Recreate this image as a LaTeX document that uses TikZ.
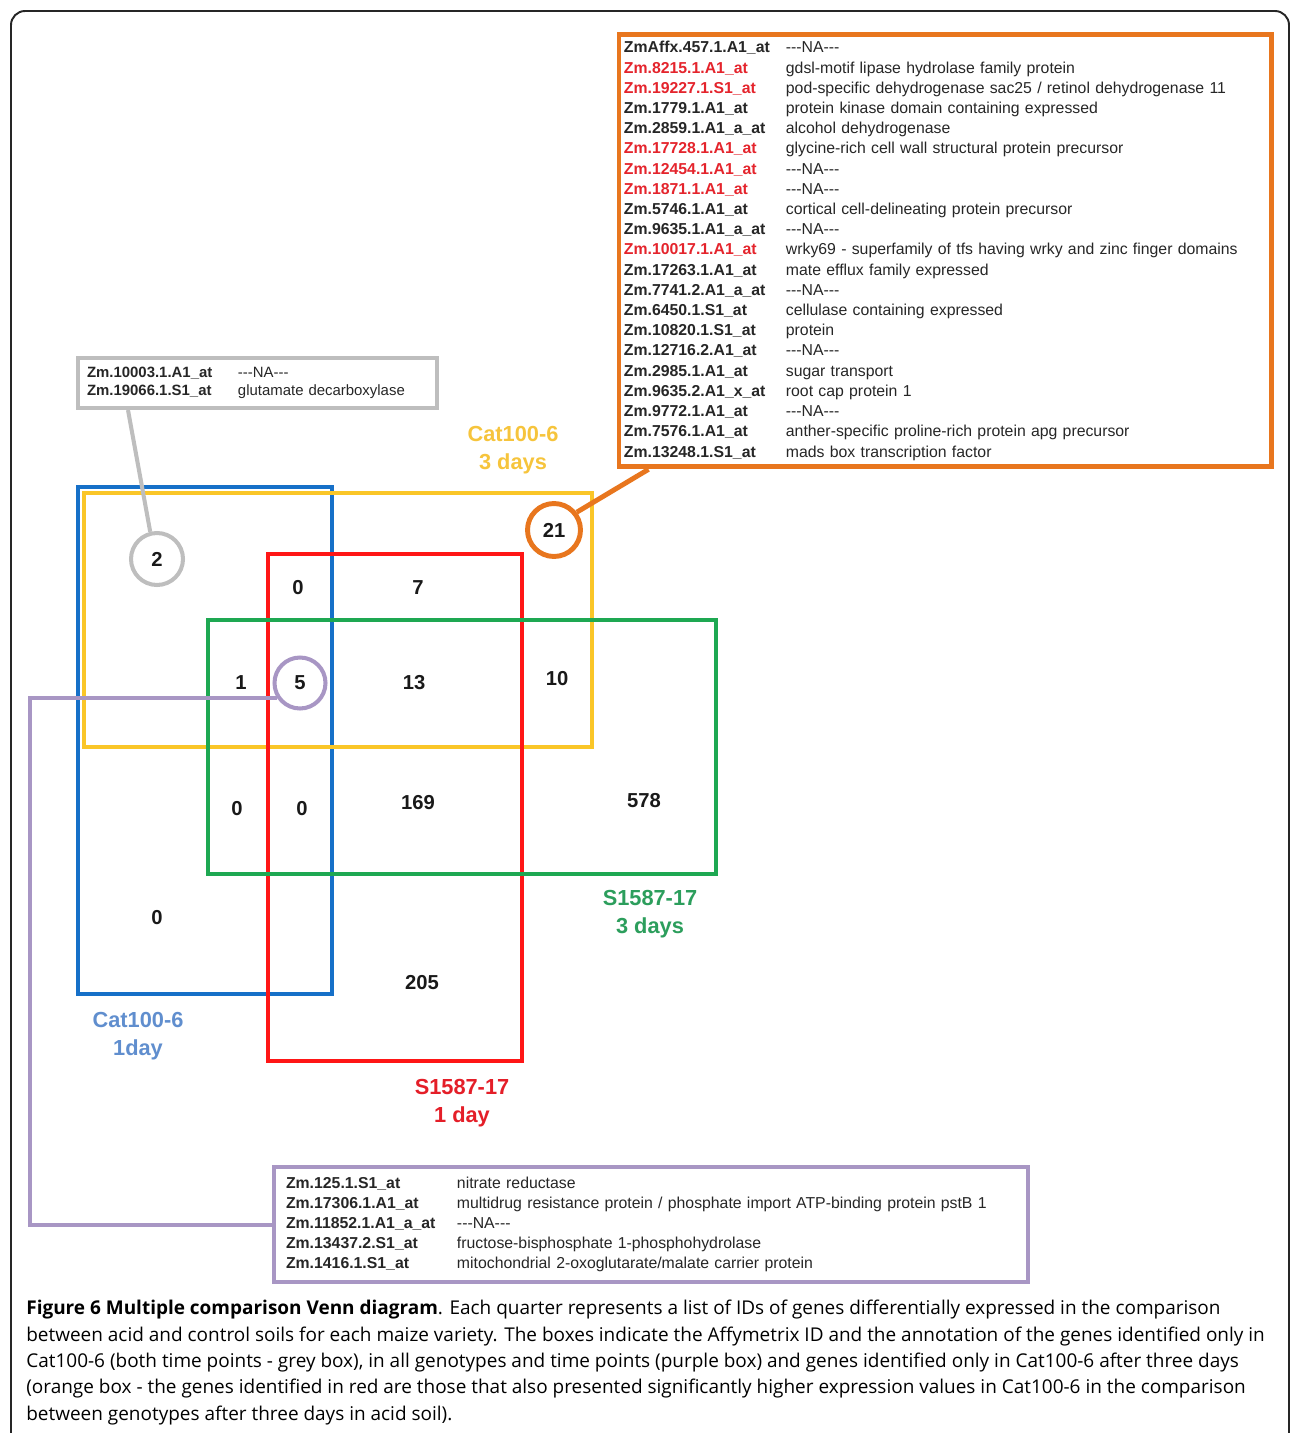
\documentclass[tikz,border=0pt]{standalone}
\usepackage{fontspec}
\setmainfont{Liberation Sans}
\newfontfamily\capfont{Open Sans}
\usepackage{xcolor}
\usetikzlibrary{positioning,calc}

\definecolor{catblue}{RGB}{22,112,200}
\definecolor{catgold}{RGB}{250,198,40}
\definecolor{sred}{RGB}{255,22,22}
\definecolor{sgreen}{RGB}{30,168,82}
\definecolor{labgold}{RGB}{246,196,60}
\definecolor{labblue}{RGB}{96,142,206}
\definecolor{labgreen}{RGB}{44,158,92}
\definecolor{labred}{RGB}{228,30,40}
\definecolor{ringgrey}{RGB}{190,190,190}
\definecolor{ringorange}{RGB}{232,118,30}
\definecolor{ringpurple}{RGB}{168,150,196}
\definecolor{hitred}{RGB}{228,36,44}

\newcommand{\NA}{-{}-{}-NA-{}-{}-}
\newcommand{\gid}[1]{\textbf{#1}}
\newcommand{\hit}[1]{\textcolor{hitred}{\textbf{#1}}}

\begin{document}
\begin{tikzpicture}[
  x=0.02cm, y=-0.02cm,
  frame/.style={draw=black!85, line width=1.1pt, rounded corners=8pt},
  setbox/.style={draw, line width=2pt, inner sep=0pt, outer sep=0pt, anchor=north west},
  tall/.style={setbox, minimum width=5.08cm, minimum height=10.14cm},
  wide/.style={setbox, minimum width=10.16cm, minimum height=5.08cm},
  num/.style={font=\fontsize{11.5}{13}\selectfont\bfseries, text=black!90},
  ring/.style={circle, num, line width=2.3pt, inner sep=0pt},
  setlab/.style={align=center, font=\fontsize{12.4}{15.9}\selectfont\bfseries},
  genebox/.style={anchor=north west, inner ysep=0pt, align=left, text=black!85},
  link/.style={line width=2.3pt}
]
\useasboundingbox (0,0) rectangle (1290,1433);
\draw[frame] (11,11) rectangle (1289,1470);

% The four gene sets
\node[tall, draw=catblue] (cat1) at (78,487) {};
\node[wide, draw=catgold] (cat3) at (84,493) {};
\node[tall, draw=sred] (s1) at (268,554) {};
\node[wide, draw=sgreen] (s3) at (208,620) {};

% Counts
\node[ring, draw=ringgrey, minimum size=1.04cm] (c2) at (157,559) {2};
\node[ring, draw=ringorange, line width=2.8pt, minimum size=1.06cm] (c21) at (554,530) {21};
\node[ring, draw=ringpurple, minimum size=1.02cm] (c5) at (300,683) {5};
\node[num] (n0a) at (298,588) {0};
\node[num] (n7) at (418,588) {7};
\node[num] (n1) at (241,683) {1};
\node[num] (n13) at (414,683) {13};
\node[num] (n10) at (557,679) {10};
\node[num] (n0b) at (237,809) {0};
\node[num] (n0c) at (302,809) {0};
\node[num] (n169) at (418,803) {169};
\node[num] (n578) at (644,801) {578};
\node[num] (n0d) at (157,918) {0};
\node[num] (n205) at (422,983) {205};

% Set names
\node[setlab, text=labgold] (lcat3) at (513,450) {Cat100-6\\3 days};
\node[setlab, text=labgreen] (ls3) at (650,914) {S1587-17\\3 days};
\node[setlab, text=labblue] (lcat1) at (138,1036) {Cat100-6\\1day};
\node[setlab, text=labred] (ls1) at (462,1103) {S1587-17\\1 day};

% Gene lists
\node[genebox, draw=ringgrey, line width=2.3pt, inner xsep=0.18cm, text width=6.82cm,
  minimum height=1.0cm, font=\fontsize{8.5}{10.2}\selectfont] (gbox) at (76,356) {%
  \begin{tabular}{@{}p{3.02cm}@{}l@{}}
  \gid{Zm.10003.1.A1\_at} & \NA\\
  \gid{Zm.19066.1.S1\_at} & glutamate decarboxylase
  \end{tabular}};

\node[genebox, draw=ringorange, line width=2.8pt, inner xsep=0.1cm, text width=12.86cm,
  minimum height=8.64cm, font=\fontsize{9}{11.5}\selectfont] (obox) at (616.5,32.5) {%
  \begin{tabular}{@{}p{3.24cm}@{}l@{}}
  \gid{ZmAffx.457.1.A1\_at} & \NA\\
  \hit{Zm.8215.1.A1\_at} & gdsl-motif lipase hydrolase family protein\\
  \hit{Zm.19227.1.S1\_at} & pod-specific dehydrogenase sac25 / retinol dehydrogenase 11\\
  \gid{Zm.1779.1.A1\_at} & protein kinase domain containing expressed\\
  \gid{Zm.2859.1.A1\_a\_at} & alcohol dehydrogenase\\
  \hit{Zm.17728.1.A1\_at} & glycine-rich cell wall structural protein precursor\\
  \hit{Zm.12454.1.A1\_at} & \NA\\
  \hit{Zm.1871.1.A1\_at} & \NA\\
  \gid{Zm.5746.1.A1\_at} & cortical cell-delineating protein precursor\\
  \gid{Zm.9635.1.A1\_a\_at} & \NA\\
  \hit{Zm.10017.1.A1\_at} & wrky69 - superfamily of tfs having wrky and zinc finger domains\\
  \gid{Zm.17263.1.A1\_at} & mate efflux family expressed\\
  \gid{Zm.7741.2.A1\_a\_at} & \NA\\
  \gid{Zm.6450.1.S1\_at} & cellulase containing expressed\\
  \gid{Zm.10820.1.S1\_at} & protein\\
  \gid{Zm.12716.2.A1\_at} & \NA\\
  \gid{Zm.2985.1.A1\_at} & sugar transport\\
  \gid{Zm.9635.2.A1\_x\_at} & root cap protein 1\\
  \gid{Zm.9772.1.A1\_at} & \NA\\
  \gid{Zm.7576.1.A1\_at} & anther-specific proline-rich protein apg precursor\\
  \gid{Zm.13248.1.S1\_at} & mads box transcription factor
  \end{tabular}};

\node[genebox, draw=ringpurple, line width=2.3pt, inner xsep=0.24cm, text width=14.6cm,
  minimum height=2.3cm, font=\fontsize{9}{11.34}\selectfont] (pbox) at (272,1165) {%
  \begin{tabular}{@{}p{3.42cm}@{}l@{}}
  \gid{Zm.125.1.S1\_at} & nitrate reductase\\
  \gid{Zm.17306.1.A1\_at} & multidrug resistance protein / phosphate import ATP-binding protein pstB 1\\
  \gid{Zm.11852.1.A1\_a\_at} & \NA\\
  \gid{Zm.13437.2.S1\_at} & fructose-bisphosphate 1-phosphohydrolase\\
  \gid{Zm.1416.1.S1\_at} & mitochondrial 2-oxoglutarate/malate carrier protein
  \end{tabular}};

% Callout lines
\coordinate (turn) at (30,0);
\draw[link, draw=ringgrey] (c2.104) -- ($(gbox.south west)+(52,0)$);
\draw[link, draw=ringorange, line width=2.8pt] (c21.38) -- ($(obox.south west)+(32,0)$);
\draw[link, draw=ringpurple] (c5.213) -- (c5.213 -| turn) -- (turn |- pbox.west) -- (pbox.west);

% Caption
\node[anchor=north west, inner sep=0pt, align=left, font=\capfont\fontsize{10.8}{15}\selectfont] (capt) at (26,1300) {%
  \textbf{Figure 6 Multiple comparison Venn diagram}. Each quarter represents a list of IDs of genes differentially expressed in the comparison\\
  between acid and control soils for each maize variety. The boxes indicate the Affymetrix ID and the annotation of the genes identified only in\\
  Cat100-6 (both time points - grey box), in all genotypes and time points (purple box) and genes identified only in Cat100-6 after three days\\
  (orange box - the genes identified in red are those that also presented significantly higher expression values in Cat100-6 in the comparison\\
  between genotypes after three days in acid soil).};
\end{tikzpicture}
\end{document}
